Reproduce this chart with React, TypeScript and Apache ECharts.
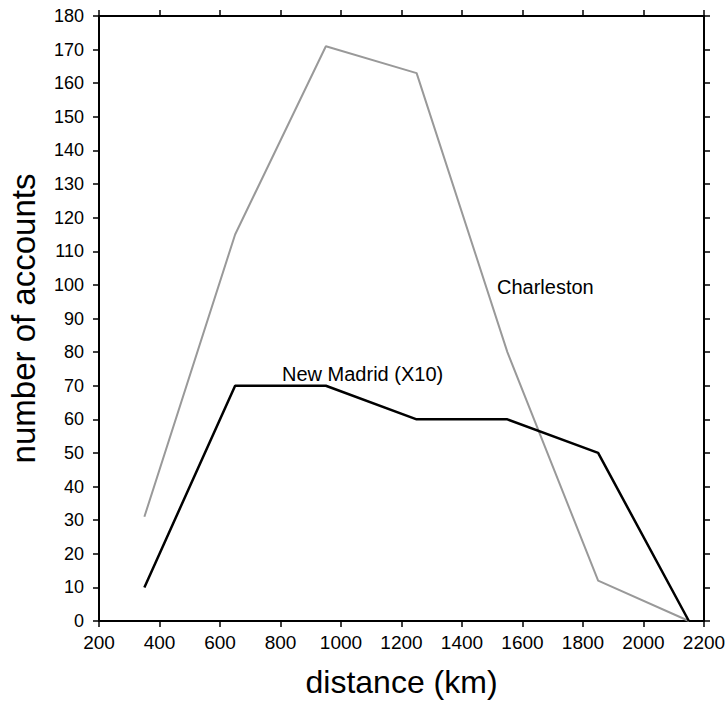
import React, { useEffect, useRef } from "react";
import * as echarts from "echarts";

const distances = [350, 650, 950, 1250, 1550, 1850, 2150];
const charleston = [31, 115, 171, 163, 80, 12, 0];
const newMadridX10 = [10, 70, 70, 60, 60, 50, 0];
const xTicks = [200, 400, 600, 800, 1000, 1200, 1400, 1600, 1800, 2000, 2200];
const yTicks = [0, 10, 20, 30, 40, 50, 60, 70, 80, 90, 100, 110, 120, 130, 140, 150, 160, 170, 180];

const FONT = "'Liberation Sans', Arial, Helvetica, sans-serif";

export default function App() {
  const ref = useRef<HTMLDivElement>(null);
  useEffect(() => {
    if (!ref.current) return;
    document.body.style.margin = "0";
    const chart = echarts.init(ref.current, undefined, { renderer: "svg" });
    const axisLine = { show: true, onZero: false, lineStyle: { color: "#000", width: 2 } };
    const tick = { show: true, inside: false, length: 6, lineStyle: { color: "#000", width: 1.5 } };
    const fmt = (v: number) => String(v);
    chart.setOption({
      animation: false,
      backgroundColor: "#fff",
      grid: { left: 99, right: 22, top: 16, bottom: 81, containLabel: false, outerBoundsMode: "none" },
      xAxis: [
        {
          type: "value",
          position: "bottom",
          min: xTicks[0],
          max: xTicks[xTicks.length - 1],
          interval: 200,
          axisLine,
          axisTick: tick,
          splitLine: { show: false },
          axisLabel: { color: "#000", fontSize: 19, fontFamily: FONT, margin: 12, formatter: fmt },
          name: "distance (km)",
          nameLocation: "middle",
          nameGap: 45,
          nameTextStyle: { color: "#000", fontSize: 32, fontFamily: FONT },
        },
        {
          type: "value",
          position: "top",
          min: xTicks[0],
          max: xTicks[xTicks.length - 1],
          interval: 200,
          axisLine,
          axisTick: tick,
          splitLine: { show: false },
          axisLabel: { show: false },
        },
      ],
      yAxis: [
        {
          type: "value",
          position: "left",
          min: yTicks[0],
          max: yTicks[yTicks.length - 1],
          interval: 10,
          axisLine,
          axisTick: tick,
          splitLine: { show: false },
          axisLabel: { color: "#000", fontSize: 18, fontFamily: FONT, margin: 15, formatter: fmt },
          name: "number of accounts",
          nameLocation: "middle",
          nameGap: 59,
          nameTextStyle: { color: "#000", fontSize: 33, fontFamily: FONT },
        },
        {
          type: "value",
          position: "right",
          min: yTicks[0],
          max: yTicks[yTicks.length - 1],
          interval: 10,
          axisLine,
          axisTick: tick,
          splitLine: { show: false },
          axisLabel: { show: false },
        },
      ],
      series: [
        {
          name: "Charleston",
          type: "line",
          xAxisIndex: 0,
          yAxisIndex: 0,
          data: distances.map((d, i) => [d, charleston[i]]),
          showSymbol: false,
          lineStyle: { color: "#999", width: 2 },
          z: 2,
        },
        {
          name: "New Madrid (X10)",
          type: "line",
          xAxisIndex: 0,
          yAxisIndex: 0,
          data: distances.map((d, i) => [d, newMadridX10[i]]),
          showSymbol: false,
          lineStyle: { color: "#000", width: 2.5 },
          z: 3,
        },
      ],
      graphic: [
        {
          type: "text",
          x: 497,
          y: 287,
          style: { text: "Charleston", fill: "#000", fontSize: 20, fontFamily: FONT, verticalAlign: "middle" },
        },
        {
          type: "text",
          x: 282,
          y: 374,
          style: { text: "New Madrid (X10)", fill: "#000", fontSize: 20, fontFamily: FONT, verticalAlign: "middle" },
        },
      ],
    });
    return () => chart.dispose();
  }, []);
  return <div ref={ref} style={{ width: 726, height: 702 }} />;
}
